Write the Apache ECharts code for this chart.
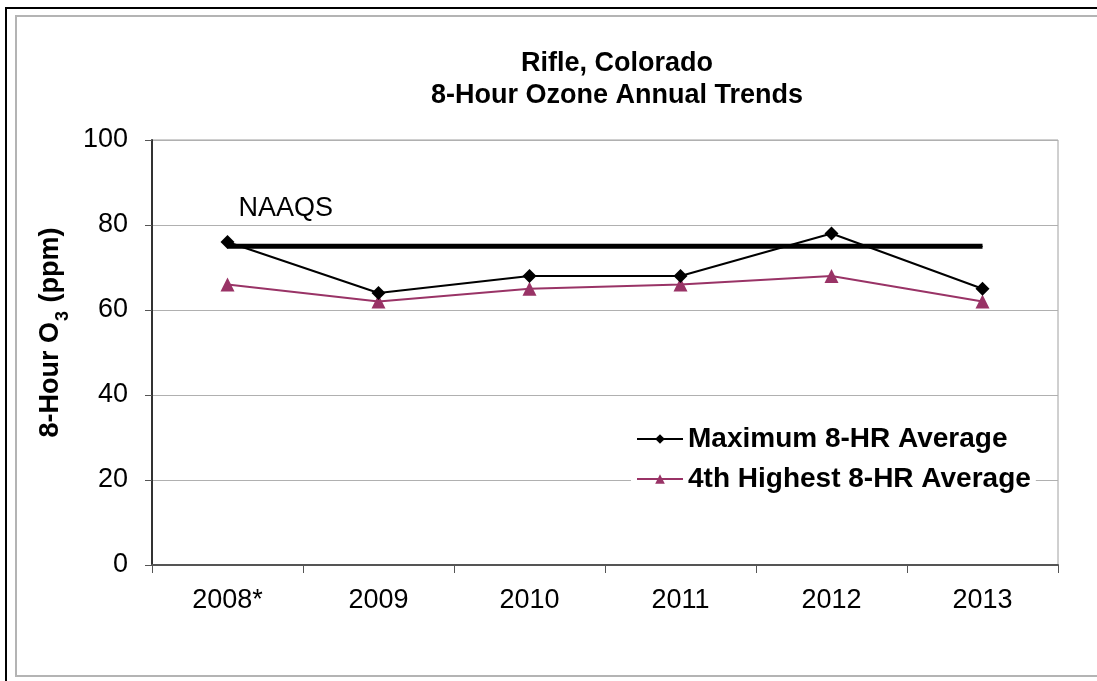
<!DOCTYPE html>
<html><head><meta charset="utf-8">
<script src="https://cdn.jsdelivr.net/npm/echarts@6/dist/echarts.min.js"></script>
<style>html,body{margin:0;padding:0;background:#fff}#c{width:1097px;height:681px}</style>
</head><body><div id="c"></div>
<script>
const categories = ['2008*', '2009', '2010', '2011', '2012', '2013'];
const maxAvg = [76, 64, 68, 68, 78, 65];
const fourthHighest = [66, 62, 65, 66, 68, 62];
const naaqs = [75, 75, 75, 75, 75, 75];
const yTicks = { min: 0, max: 100, interval: 20 };

const F = '"Liberation Sans", Arial, sans-serif';
const FS = 27;
const chart = echarts.init(document.getElementById('c'));
chart.setOption({
  animation: false,
  backgroundColor: '#fff',
  textStyle: { fontFamily: F },
  title: {
    text: 'Rifle, Colorado\n8-Hour Ozone Annual Trends',
    left: 612, textAlign: 'center', top: 43,
    textStyle: { fontFamily: F, fontSize: 27, fontWeight: 'bold', color: '#000', lineHeight: 32 }
  },
  graphic: [
    { type: 'rect', shape: { x: 6, y: 8, width: 1200, height: 800 }, style: { fill: null, stroke: '#000', lineWidth: 2 }, silent: true },
    { type: 'rect', shape: { x: 16, y: 16, width: 1200, height: 660 }, style: { fill: null, stroke: '#b4b4b4', lineWidth: 2 }, silent: true }
  ],
  grid: { left: 152, top: 140, right: 39, bottom: 116, show: true, borderColor: '#a0a0a0', borderWidth: 1 },
  legend: {
    orient: 'vertical', left: 631, top: 423,
    data: ['Maximum 8-HR Average', '4th Highest 8-HR Average'],
    itemWidth: 46, itemHeight: 12, itemGap: 12,
    backgroundColor: '#fff', padding: [2, 5],
    textStyle: { fontFamily: F, fontSize: 28, fontWeight: 'bold', color: '#000' }
  },
  xAxis: {
    type: 'category', data: categories, boundaryGap: true,
    axisLine: { lineStyle: { color: '#555', width: 2 } },
    axisTick: { show: true, length: 8, lineStyle: { color: '#555' } },
    axisLabel: { fontFamily: F, fontSize: FS, color: '#000', margin: 22 }
  },
  yAxis: {
    type: 'value', min: yTicks.min, max: yTicks.max, interval: yTicks.interval,
    name: '{a|8-Hour O}{s|3}{a| (ppm)}',
    nameLocation: 'middle', nameGap: 84, nameRotate: 90,
    nameTextStyle: { padding: [0, 0, 0, 40], rich: {
      a: { fontFamily: F, fontSize: FS, fontWeight: 'bold', color: '#000' },
      s: { fontFamily: F, fontSize: 18, fontWeight: 'bold', color: '#000', verticalAlign: 'bottom', padding: [0, 1, -8, 1] }
    } },
    axisLine: { show: true, lineStyle: { color: '#333', width: 2 } },
    axisTick: { show: true, length: 7, lineStyle: { color: '#555' } },
    axisLabel: { fontFamily: F, fontSize: FS, color: '#000', margin: 24 },
    splitLine: { show: true, lineStyle: { color: '#b0b0b0', width: 1 } }
  },
  series: [
    {
      name: 'NAAQS', type: 'line', data: naaqs.map((v, i) => i === 0 ? {
        value: v, label: { show: true, formatter: 'NAAQS', position: 'top', align: 'left', offset: [11, -19],
          fontFamily: F, fontSize: FS, color: '#000' } } : v),
      symbol: 'circle', symbolSize: 1, itemStyle: { color: '#000' },
      lineStyle: { color: '#000', width: 5 }, silent: true, z: 1
    },
    {
      name: 'Maximum 8-HR Average', type: 'line', data: maxAvg,
      symbol: 'diamond', symbolSize: 14, itemStyle: { color: '#000' },
      lineStyle: { color: '#000', width: 2 }, z: 3
    },
    {
      name: '4th Highest 8-HR Average', type: 'line', data: fourthHighest,
      symbol: 'triangle', symbolSize: 14, itemStyle: { color: '#993366' },
      lineStyle: { color: '#993366', width: 2 }, z: 2
    }
  ]
});
</script></body></html>
